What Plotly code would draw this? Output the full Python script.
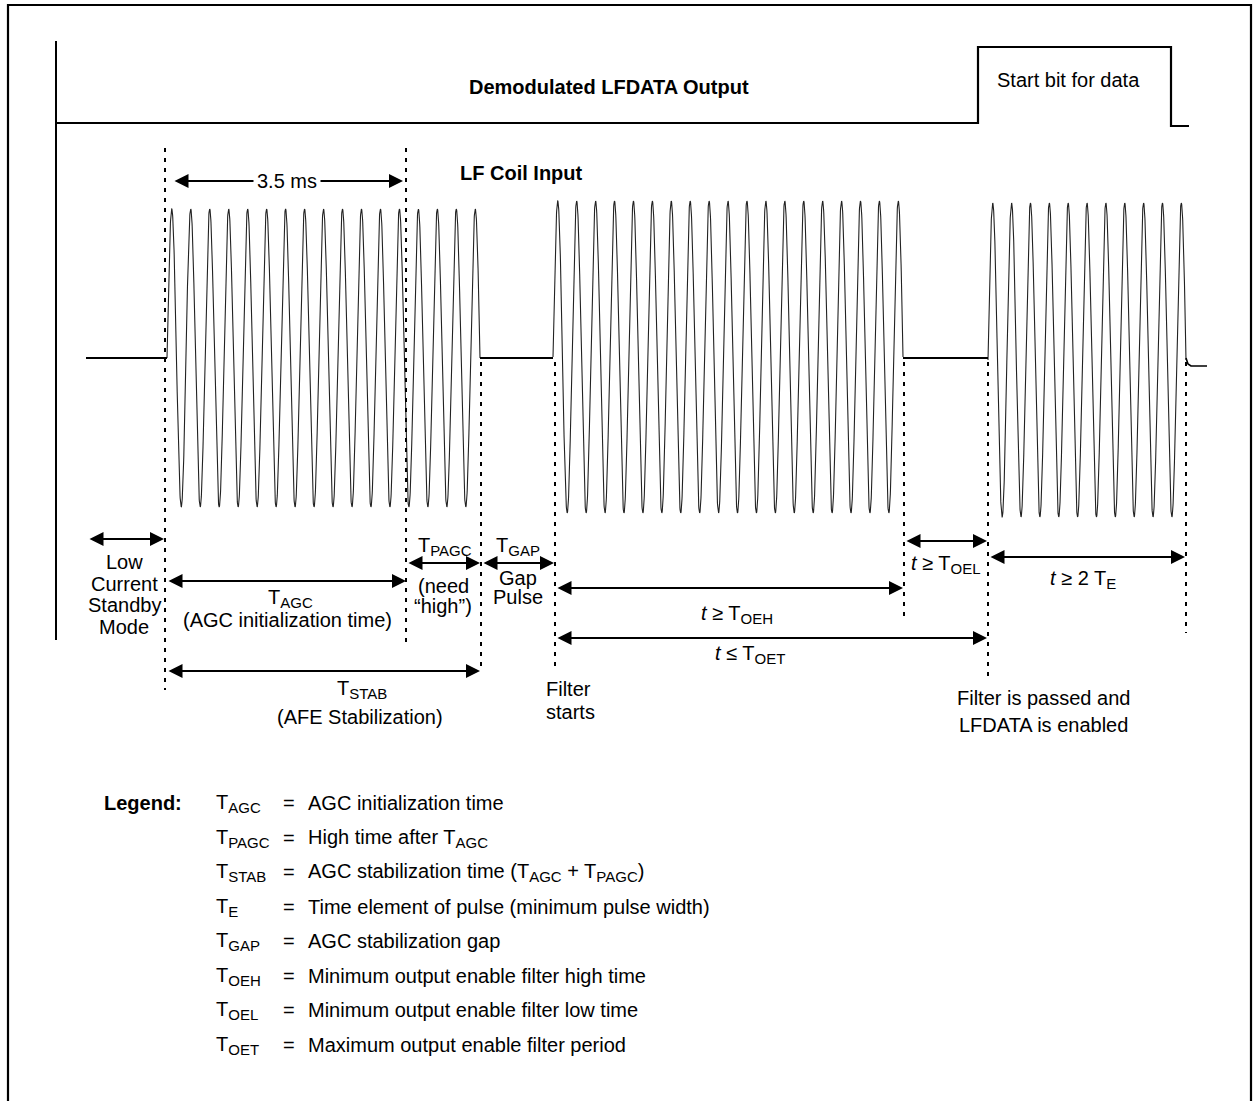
import numpy as np
import plotly.graph_objects as go

# page frame (pixel space, y grows downward)
W, H = 1255, 1101
FONT = "Liberation Sans, Arial, Helvetica, sans-serif"


def T(sub):
    return f"T<sub><span style='font-size:15px'>{sub}</span></sub>"


# demodulated LFDATA output (step signal)
demod_x = [56, 978, 1171, 1189]
demod_y = [123, 47, 126, 126]

# LF coil input bursts
burst_start = [167, 553, 988]
burst_end = [480, 903, 1186]
burst_cycles = [16.5, 18.5, 10.5]
burst_top = [209, 201, 203]
burst_bottom = [507, 513, 517]
baseline_y = 358
idle_start = [86, 480, 903]
idle_end = [167, 553, 988]
tail_x = [1186, 1188, 1191, 1207]
tail_y = [358, 364, 366, 366]

# dotted timing markers
marker_x = [165, 406, 481, 555, 904, 988, 1186]
marker_top = [148, 148, 362, 362, 362, 362, 362]
marker_bottom = [690, 645, 672, 672, 618, 680, 633]

# dimension arrows: from, to, level
arrow_from = [173, 88, 167, 407, 482, 556, 556, 905, 989, 167]
arrow_to = [403, 164, 406, 480, 554, 903, 987, 987, 1185, 480]
arrow_level = [181, 539, 581, 563, 563, 588, 638, 541, 557, 671]

# labels: text, x, y, anchor, bold
labels = [
    ("Demodulated LFDATA Output", 609, 87, "center", True),
    ("Start bit for data", 1068, 80, "center", False),
    ("LF Coil Input", 456, 173, "left", True),
    ("3.5 ms", 287, 181, "center", False),
    ("Low", 124, 562, "center", False),
    ("Current", 124, 584, "center", False),
    ("Standby", 124, 605, "center", False),
    ("Mode", 124, 627, "center", False),
    (T("AGC"), 290, 598, "center", False),
    ("(AGC initialization time)", 287, 620, "center", False),
    (T("PAGC"), 445, 546, "center", False),
    ("(need", 443, 586, "center", False),
    ("\u201chigh\u201d)", 443, 606, "center", False),
    (T("GAP"), 518, 546, "center", False),
    ("Gap", 518, 578, "center", False),
    ("Pulse", 518, 597, "center", False),
    ("<i>t</i> \u2265 " + T("OEH"), 737, 614, "center", False),
    ("<i>t</i> \u2264 " + T("OET"), 750, 654, "center", False),
    ("Filter", 542, 689, "left", False),
    ("starts", 542, 712, "left", False),
    ("<i>t</i> \u2265 " + T("OEL"), 946, 564, "center", False),
    ("<i>t</i> \u2265 2 " + T("E"), 1083, 579, "center", False),
    (T("STAB"), 362, 689, "center", False),
    ("(AFE Stabilization)", 360, 717, "center", False),
    ("Filter is passed and", 1043, 698, "center", False),
    ("LFDATA is enabled", 1043, 725, "center", False),
]

# legend table
legend_sym = [T("AGC"), T("PAGC"), T("STAB"), T("E"), T("GAP"), T("OEH"), T("OEL"), T("OET")]
legend_desc = [
    "AGC initialization time",
    "High time after " + T("AGC"),
    "AGC stabilization time (" + T("AGC") + " + " + T("PAGC") + ")",
    "Time element of pulse (minimum pulse width)",
    "AGC stabilization gap",
    "Minimum output enable filter high time",
    "Minimum output enable filter low time",
    "Maximum output enable filter period",
]
legend_rows = [803, 838, 872, 907, 941, 976, 1010, 1045]

fig = go.Figure()


def add_line(x, y, width=1.3, color="black", dash=None, shape="linear"):
    fig.add_trace(go.Scatter(
        x=x, y=y, mode="lines", hoverinfo="skip",
        line=dict(color=color, width=width, dash=dash, shape=shape),
    ))


# frame
add_line([8, 8, 1251, 1251], [H, 5, 5, H], width=2.2)
# left axis
add_line([56, 56], [41, 640], width=2)
# demod output
add_line(demod_x, demod_y, width=2.2, shape="hv")

# coil waveform
for s, e, c, top, bot in zip(burst_start, burst_end, burst_cycles, burst_top, burst_bottom):
    t = np.linspace(0, 1, 2400)
    centre = (top + bot) / 2
    amp = (bot - top) / 2
    add_line(s + t * (e - s), centre - amp * np.sin(2 * np.pi * c * t), width=1.1, color="#222")
for s, e in zip(idle_start, idle_end):
    add_line([s, e], [baseline_y, baseline_y], width=2)
add_line(tail_x, tail_y, width=1.6)

# dotted markers
for x, y0, y1 in zip(marker_x, marker_top, marker_bottom):
    add_line([x, x], [y0, y1], width=2, dash="4px,6px")

annotations = []
for a, b, lv in zip(arrow_from, arrow_to, arrow_level):
    annotations.append(dict(
        x=b, y=lv, ax=a, ay=lv, xref="x", yref="y", axref="x", ayref="y",
        text="", showarrow=True, arrowside="end+start", arrowhead=2,
        arrowsize=1.4, arrowwidth=2, arrowcolor="black", standoff=0, startstandoff=0,
    ))

for txt, x, y, anchor, bold in labels:
    annotations.append(dict(
        x=x, y=y, xref="x", yref="y", text=f"<b>{txt}</b>" if bold else txt,
        showarrow=False, xanchor=anchor, yanchor="middle",
        bgcolor="white" if txt == "3.5 ms" else None, borderpad=3,
        font=dict(family=FONT, size=20, color="black"),
    ))

annotations.append(dict(
    x=102, y=legend_rows[0], xref="x", yref="y", text="<b>Legend:</b>",
    showarrow=False, xanchor="left", yanchor="middle",
    font=dict(family=FONT, size=20, color="black"),
))
for sym, desc, y in zip(legend_sym, legend_desc, legend_rows):
    for txt, x, anchor in [(sym, 214, "left"), ("=", 289, "center"), (desc, 306, "left")]:
        annotations.append(dict(
            x=x, y=y, xref="x", yref="y", text=txt, showarrow=False,
            xanchor=anchor, yanchor="middle",
            font=dict(family=FONT, size=20, color="black"),
        ))

fig.update_layout(
    width=W, height=H, margin=dict(l=0, r=0, t=0, b=0),
    plot_bgcolor="white", paper_bgcolor="white", showlegend=False,
    xaxis=dict(range=[0, W], visible=False, fixedrange=True),
    yaxis=dict(range=[H, 0], visible=False, fixedrange=True),
    annotations=annotations,
)

fig.write_html(
    "out.html",
    config={"displayModeBar": False, "staticPlot": True},
    post_script="document.body.style.margin='0';document.body.style.overflow='hidden';",
)
